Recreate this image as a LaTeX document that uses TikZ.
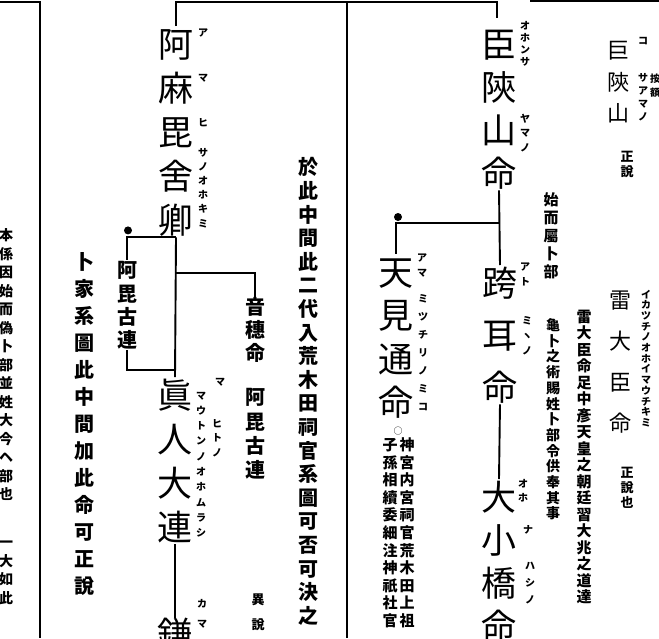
\documentclass[tikz,border=0pt]{standalone}
\usepackage{fontspec}
\setmainfont{Noto Sans CJK JP}
\usepackage{tikz}
\usetikzlibrary{positioning,calc}
\makeatletter
\newcommand\vcol[2]{\vbox{\baselineskip=#1\relax\lineskiplimit=-\maxdimen
  \@tfor\vch:=#2\do{\hbox to 1em{\hss\vrule height .88em depth .12em width 0pt\vch\hss}}}}
\makeatother
\tikzstyle{frame} = [line width=2.6pt]
\tikzstyle{kin} = [line width=1.9pt]
\tikzstyle{vt} = [inner sep=0pt, anchor=north]
\tikzstyle{bigname} = [vt, font=\fontsize{35}{35}\selectfont]
\tikzstyle{midname} = [vt, font=\fontsize{22}{22}\selectfont]
\tikzstyle{smallname} = [vt, font=\bfseries\fontsize{20}{20}\selectfont]
\tikzstyle{gloss} = [vt, font=\bfseries\fontsize{15}{15}\selectfont]
\tikzstyle{tiny} = [vt, font=\bfseries\fontsize{13}{13}\selectfont]
\tikzstyle{kana} = [vt, font=\bfseries\fontsize{10}{10}\selectfont]
\tikzstyle{dot} = [circle, fill, inner sep=0pt, minimum size=8pt]

\begin{document}
\begin{tikzpicture}[x=1pt, y=-1pt]
\useasboundingbox (0,0) rectangle (659,638);
% page frame
\coordinate (tl) at (0,2); \coordinate (tlc) at (40,2); \coordinate (bl) at (40,638);
\coordinate (tm) at (347,2); \coordinate (bm) at (347,638);
\coordinate (tr) at (530,1); \coordinate (tre) at (659,1);
\draw[frame] (tl) -- (tlc) -- (bl);
\draw[frame] (tm) -- (bm);
\draw[frame] (tr) -- (tre);

% left family
\node[bigname] (amahi) at (176,26) {\vcol{44pt}{阿麻毘舍卿}};
\node[smallname] (abikoA) at (127,260) {\vcol{23.3pt}{阿毘古連}};
\node[smallname] (otoho) at (255,297) {\vcol{23pt}{音穗命}};
\node[smallname] (abikoB) at (255,387) {\vcol{24.3pt}{阿毘古連}};
\node[bigname] (mahito) at (175,377) {\vcol{44pt}{眞人大連}};
\node[bigname] (kama) at (175,618) {鎌};

\node[kana] (kA1) at (203,27) {\vcol{45pt}{アマヒ}};
\node[kana] (kA2) at (203,147) {\vcol{14.2pt}{サノオホキミ}};
\node[kana] (kM1) at (220,378) {マ};
\node[kana] (kM2) at (217,418) {\vcol{14.5pt}{ヒトノ}};
\node[kana] (kM3) at (201,390) {\vcol{15.3pt}{マウトンノオホムラシ}};
\node[kana] (kK) at (202,598) {\vcol{20pt}{カマ}};

\node[smallname] (notemid) at (308,157) {\vcol{23.6pt}{於此中間此二代入荒木田祠官系圖可否可決之}};
\node[smallname] (noteleft) at (84,252) {\vcol{27pt}{卜家系圖此中間加此命可正說}};
\node[tiny] (isetsu) at (258,593) {\vcol{25pt}{異說}};

\coordinate (jA) at (amahi.south);
\coordinate (jB) at (175,370);
\coordinate (jC) at (176,273);
\draw[kin] (amahi.north) -- ++(0,-24) -- (497,2) -- (497,18);
\draw[kin] (jA) -- (mahito.north);
\draw[kin] (jA) -| (abikoA.north);
\draw[kin] (abikoA.south) |- (jB);
\draw[kin] (jC) -| (otoho.north);
\draw[kin] (mahito.south) -- (kama.north);
\node[dot] (dotA) at ($(jA -| abikoA.north)+(1,-7)$) {};

% right family
\node[bigname] (omisa) at (499,26) {\vcol{43pt}{臣陝山命}};
\node[bigname] (atomi) at (500,265) {\vcol{52pt}{跨耳命}};
\node[bigname] (ohashi) at (499,479) {\vcol{43pt}{大小橋命}};
\node[bigname] (amami) at (396,254) {\vcol{43.5pt}{天見通命}};

\node[kana] (kO1) at (525,20) {\vcol{12.3pt}{オホンサ}};
\node[kana] (kO2) at (525,113) {\vcol{14.5pt}{ヤマノ}};
\node[kana] (kT1) at (525,261) {\vcol{15pt}{アト}};
\node[kana] (kT2) at (527,315) {\vcol{15pt}{ミヽノ}};
\node[kana] (kH1) at (523,478) {\vcol{14pt}{オホ}};
\node[kana] (kH2) at (528,525) {ナ};
\node[kana] (kH3) at (530,560) {\vcol{17pt}{ハシノ}};
\node[kana] (kN1) at (422,252) {\vcol{15pt}{アマ}};
\node[kana] (kN2) at (423,293) {\vcol{18pt}{ミツチリノミコ}};

\node[font=\fontsize{9}{9}\selectfont, inner sep=0pt] (ring) at (398,431) {○};
\node[gloss] (shinR) at (407,437) {\vcol{17.6pt}{神宮内宮祠官荒木田上祖}};
\node[gloss] (shinL) at (390,437) {\vcol{17.6pt}{子孫相續委細注神祇社官}};

\coordinate (jD) at (499,223);
\draw[kin] (omisa.south) -- (atomi.north);
\draw[kin] (jD) -| (amami.north);
\draw[kin] (atomi.south) -- (ohashi.north);
\node[dot] (dotB) at ($(jD -| amami.north)+(2,-6)$) {};

% right margin notes
\node[gloss] (hajime) at (551,192) {\vcol{18pt}{始而屬卜部}};
\node[gloss, font=\bfseries\fontsize{14}{14}\selectfont] (kiboku) at (553,318) {\vcol{15.7pt}{龜卜之術賜姓卜部令供奉其事}};
\node[gloss] (raiNote) at (584,309) {\vcol{16.5pt}{雷大臣命足中彥天皇之朝廷習大兆之道達}};
\node[midname] (ikazuchi) at (620,289) {\vcol{41pt}{雷大臣命}};
\node[tiny] (seiya) at (627,466) {\vcol{15pt}{正說也}};
\node[midname] (kosa) at (618,39) {\vcol{31.5pt}{巨陝山}};
\node[tiny] (sei) at (627,150) {\vcol{15pt}{正說}};
\node[kana] (kI) at (646,289) {\vcol{10.7pt}{イカツチノオホイマウチキミ}};
\node[kana] (kC1) at (643,37) {コ};
\node[kana] (kC2) at (643,72) {\vcol{13pt}{サアマノ}};
\node[kana] (ann) at (655,73) {\vcol{14pt}{按額}};

% far left column, cut at the edge
\node[gloss, font=\bfseries\fontsize{14}{14}\selectfont] (farleft) at (6,228) {\vcol{18.5pt}{本係因始而偽卜部並姓大今ヘ部也}};
\node[gloss, font=\bfseries\fontsize{14}{14}\selectfont] (farleftB) at (6,535) {\vcol{18.5pt}{一大如此}};
\end{tikzpicture}
\end{document}
